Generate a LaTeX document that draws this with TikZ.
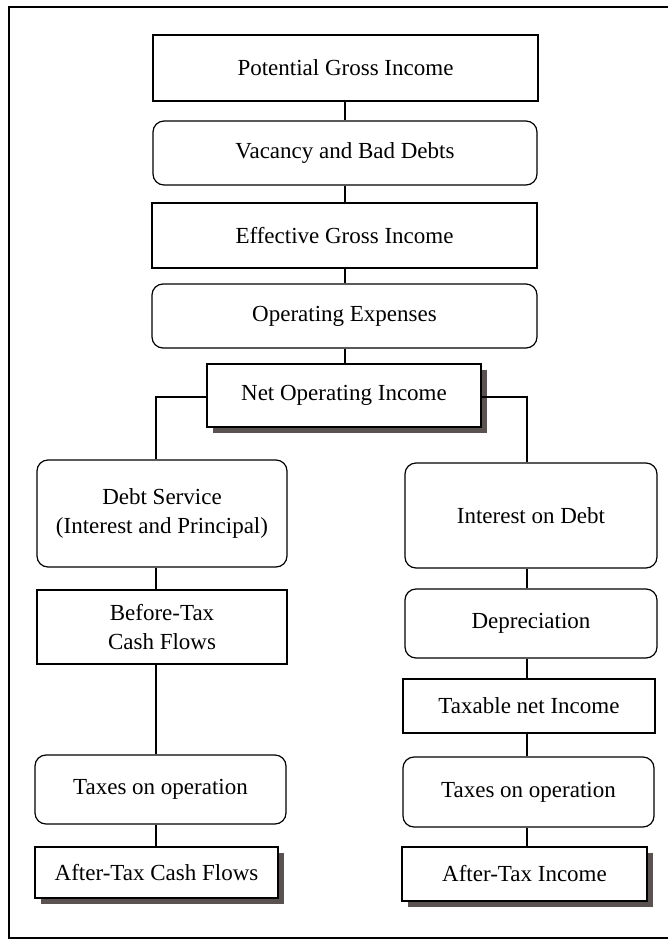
\documentclass[tikz,border=0pt]{standalone}
\usepackage{fontspec}
\setmainfont{Liberation Serif}
\usetikzlibrary{shadows}
\definecolor{shadowgray}{HTML}{5A5251}

\begin{document}
\begin{tikzpicture}[
    x=1pt, y=-1pt,
    font=\fontsize{23}{29}\selectfont,
    box/.style={rectangle, draw, line width=1.2pt, fill=white, align=center, inner sep=0pt},
    roundbox/.style={box, rounded corners=11pt},
    shadowbox/.style={box, drop shadow={shadow xshift=6pt, shadow yshift=-6pt, fill=shadowgray, opacity=1}},
    link/.style={line width=1.1pt}
]
\useasboundingbox (0,0) rectangle (668,943);

% Frame
\draw[line width=1.4pt] (9,7) rectangle (690,938);

% Top chain
\node[box, minimum width=385pt, minimum height=66pt] (pgi) at (345.5,68) {Potential Gross Income};
\node[roundbox, minimum width=384pt, minimum height=64pt] (vac) at (345,153) {Vacancy and Bad Debts};
\node[box, minimum width=385pt, minimum height=65pt] (egi) at (344.5,235.5) {Effective Gross Income};
\node[roundbox, minimum width=385pt, minimum height=64pt] (opx) at (344.5,316) {Operating Expenses};
\node[shadowbox, minimum width=274pt, minimum height=63pt] (noi) at (344,395.5) {Net Operating Income};

\coordinate (trunk) at (345,0);
\draw[link] (pgi.south -| trunk) -- (vac.north -| trunk);
\draw[link] (vac.south -| trunk) -- (egi.north -| trunk);
\draw[link] (egi.south -| trunk) -- (opx.north -| trunk);
\draw[link] (opx.south -| trunk) -- (noi.north -| trunk);

% Left side: cash flows
\node[roundbox, minimum width=250pt, minimum height=107pt] (debt) at (162,513.5) {Debt Service\\(Interest and Principal)};
\node[box, minimum width=250pt, minimum height=74pt] (btcf) at (162,627) {Before-Tax\\Cash Flows};
\node[roundbox, minimum width=251pt, minimum height=69pt] (taxl) at (160.5,789.5) {Taxes on operation};
\node[shadowbox, minimum width=243pt, minimum height=51pt] (atcf) at (156.5,872.5) {After-Tax Cash Flows};

% Right side: taxable income
\node[roundbox, minimum width=252pt, minimum height=105pt] (int) at (531,515.5) {Interest on Debt};
\node[roundbox, minimum width=252pt, minimum height=69pt] (dep) at (531,623.5) {Depreciation};
\node[box, minimum width=252pt, minimum height=54pt] (tni) at (529,706) {Taxable net Income};
\node[roundbox, minimum width=251pt, minimum height=70pt] (taxr) at (528.5,792) {Taxes on operation};
\node[shadowbox, minimum width=245pt, minimum height=54pt] (ati) at (524.5,874) {After-Tax Income};

% Branches
\coordinate (lcol) at (156,397);
\coordinate (rcol) at (527,397);
\draw[link] (noi.west |- lcol) -- (lcol) -- (debt.north -| lcol);
\draw[link] (noi.east |- rcol) -- (rcol) -- (int.north -| rcol);

\draw[link] (debt.south -| lcol) -- (btcf.north -| lcol);
\draw[link] (btcf.south -| lcol) -- (taxl.north -| lcol);
\draw[link] (taxl.south -| lcol) -- (atcf.north -| lcol);

\draw[link] (int.south -| rcol) -- (dep.north -| rcol);
\draw[link] (dep.south -| rcol) -- (tni.north -| rcol);
\draw[link] (tni.south -| rcol) -- (taxr.north -| rcol);
\draw[link] (taxr.south -| rcol) -- (ati.north -| rcol);

\end{tikzpicture}
\end{document}
